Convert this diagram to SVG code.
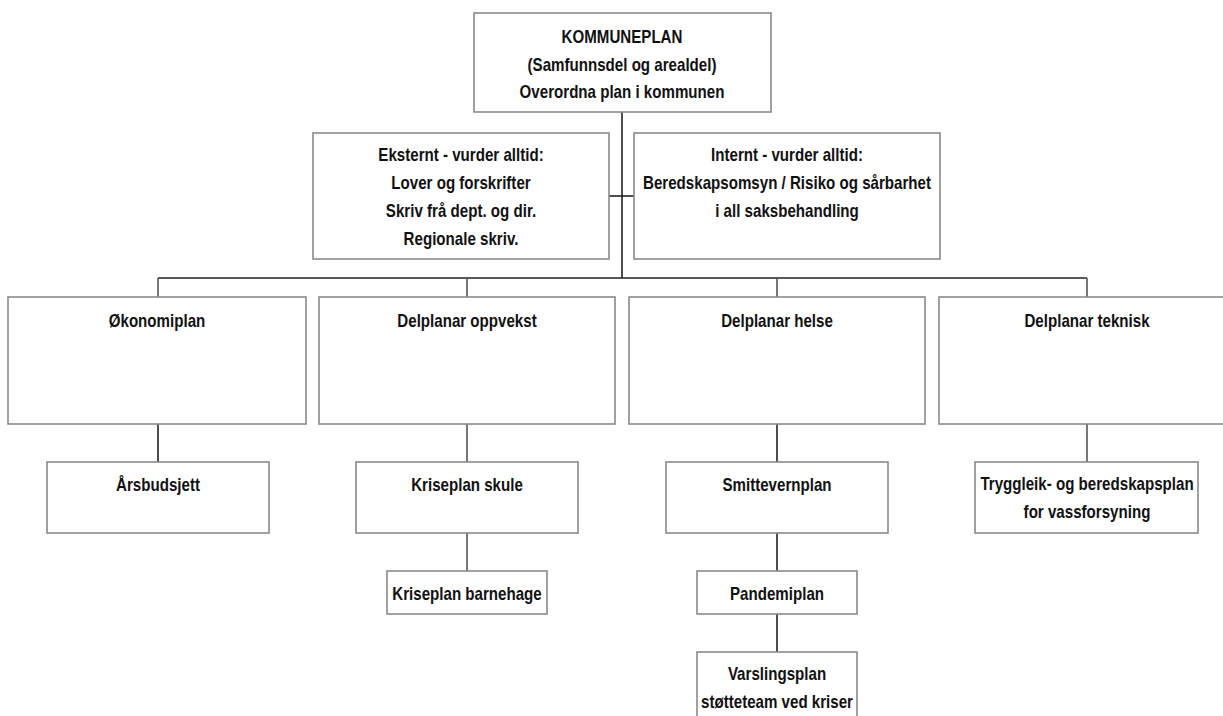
<svg xmlns="http://www.w3.org/2000/svg" width="1223" height="716" viewBox="0 0 1223 716">
<style>
.box{fill:#ffffff;stroke:#8a8a8a;stroke-width:1.6}
.t{font-family:"Liberation Sans",Arial,sans-serif;font-weight:bold;font-size:18px;fill:#111;text-anchor:middle}
.c{stroke:#222;stroke-width:1.6;fill:none}
.c2{stroke:#555;stroke-width:1.6;fill:none}
</style>
<rect width="1223" height="716" fill="#ffffff"/>
<g id="connectors">
<path class="c" d="M622 112V278"/>
<path class="c" d="M609 196H634"/>
<path class="c" d="M158 278H1087"/>
<path class="c2" d="M158 278V297M467 278V297M777 278V297M1087 278V297"/>
<path class="c" d="M158 424V462M777 424V462"/>
<path class="c2" d="M467 424V462M1087 424V462"/>
<path class="c2" d="M467 533V571"/>
<path class="c" d="M777 533V571M777 614V652"/>
</g>
<g id="kommuneplan">
<rect class="box" x="474" y="13" width="297" height="99"/>
<text class="t" transform="matrix(0.84 0 0 1 622 43)">KOMMUNEPLAN</text>
<text class="t" transform="matrix(0.84 0 0 1 622 70.5)">(Samfunnsdel og arealdel)</text>
<text class="t" transform="matrix(0.84 0 0 1 622 98)">Overordna plan i kommunen</text>
</g>
<g id="eksternt">
<rect class="box" x="313" y="133" width="296" height="126"/>
<text class="t" transform="matrix(0.84 0 0 1 461 161)">Eksternt - vurder alltid:</text>
<text class="t" transform="matrix(0.84 0 0 1 461 189)">Lover og forskrifter</text>
<text class="t" transform="matrix(0.84 0 0 1 461 217)">Skriv frå dept. og dir.</text>
<text class="t" transform="matrix(0.84 0 0 1 461 245)">Regionale skriv.</text>
</g>
<g id="internt">
<rect class="box" x="634" y="133" width="306" height="126"/>
<text class="t" transform="matrix(0.84 0 0 1 787 161)">Internt - vurder alltid:</text>
<text class="t" transform="matrix(0.84 0 0 1 787 189)">Beredskapsomsyn / Risiko og sårbarhet</text>
<text class="t" transform="matrix(0.84 0 0 1 787 217)">i all saksbehandling</text>
</g>
<g id="okonomiplan">
<rect class="box" x="8" y="297" width="298" height="127"/>
<text class="t" transform="matrix(0.84 0 0 1 157 327)">Økonomiplan</text>
</g>
<g id="oppvekst">
<rect class="box" x="319" y="297" width="296" height="127"/>
<text class="t" transform="matrix(0.84 0 0 1 467 327)">Delplanar oppvekst</text>
</g>
<g id="helse">
<rect class="box" x="629" y="297" width="296" height="127"/>
<text class="t" transform="matrix(0.84 0 0 1 777 327)">Delplanar helse</text>
</g>
<g id="teknisk">
<rect class="box" x="939" y="297" width="296" height="127"/>
<text class="t" transform="matrix(0.84 0 0 1 1087 327)">Delplanar teknisk</text>
</g>
<g id="arsbudsjett">
<rect class="box" x="47" y="462" width="222" height="71"/>
<text class="t" transform="matrix(0.84 0 0 1 158 491)">Årsbudsjett</text>
</g>
<g id="kriseplan-skule">
<rect class="box" x="356" y="462" width="222" height="71"/>
<text class="t" transform="matrix(0.84 0 0 1 467 491)">Kriseplan skule</text>
</g>
<g id="smittevernplan">
<rect class="box" x="666" y="462" width="222" height="71"/>
<text class="t" transform="matrix(0.84 0 0 1 777 491)">Smittevernplan</text>
</g>
<g id="tryggleik">
<rect class="box" x="975" y="462" width="223" height="71"/>
<text class="t" transform="matrix(0.84 0 0 1 1087 490)">Tryggleik- og beredskapsplan</text>
<text class="t" transform="matrix(0.84 0 0 1 1087 518)">for vassforsyning</text>
</g>
<g id="kriseplan-barnehage">
<rect class="box" x="387" y="571" width="160" height="43"/>
<text class="t" transform="matrix(0.84 0 0 1 467 600)">Kriseplan barnehage</text>
</g>
<g id="pandemiplan">
<rect class="box" x="697" y="571" width="160" height="43"/>
<text class="t" transform="matrix(0.84 0 0 1 777 600)">Pandemiplan</text>
</g>
<g id="varslingsplan">
<rect class="box" x="697" y="652" width="160" height="90"/>
<text class="t" transform="matrix(0.84 0 0 1 777 680)">Varslingsplan</text>
<text class="t" transform="matrix(0.84 0 0 1 777 708)">støtteteam ved kriser</text>
</g>
</svg>
